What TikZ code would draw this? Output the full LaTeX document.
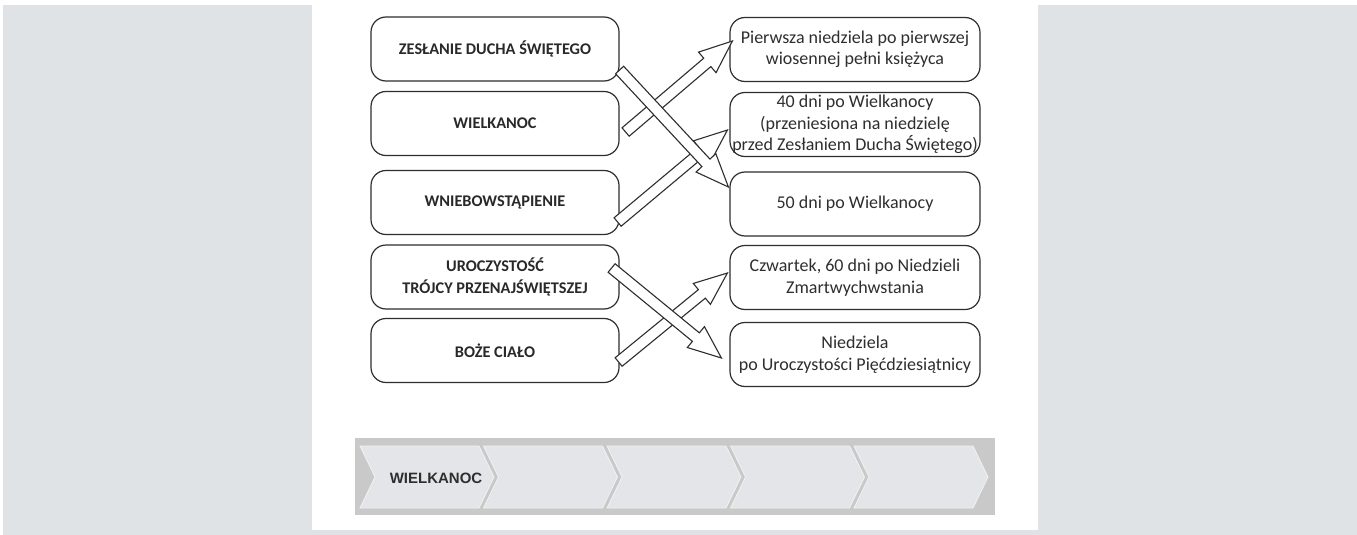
\documentclass[tikz,border=0pt]{standalone}
\usepackage{fontspec}
\setmainfont{Carlito}
\newfontfamily\barfont{Liberation Sans}
\usetikzlibrary{calc}
\definecolor{pagegray}{HTML}{E0E3E6}
\definecolor{ink}{HTML}{2E2E2E}
\definecolor{barbg}{HTML}{C9C9C9}
\definecolor{chev}{HTML}{E4E5E8}
\tikzset{
  rbox/.style={draw=ink, line width=1.2pt, rounded corners=15pt, fill=white,
    minimum width=250pt, minimum height=64pt, inner sep=0pt, align=center,
    text=ink, font=\fontsize{18}{21.5}\selectfont},
  lbox/.style={rbox, minimum width=248pt, text=ink!90!black,
    font=\bfseries\fontsize{16.3}{21.5}\selectfont},
  blockarrow/.style={draw=ink, line width=1.1pt, fill=white, line join=miter},
  chevron/.style={fill=chev, draw=white!95!black, line width=0.8pt},
  bartext/.style={font=\barfont\bfseries\fontsize{15}{18}\selectfont, text=ink, inner sep=0pt}
}
\newcommand{\blockarr}[3]{%
  \coordinate (#3h) at ($(#2)!33pt!(#1)$);
  \draw[blockarrow] ($(#1)!5.5pt!90:(#2)$) -- ($(#3h)!5.5pt!-90:(#1)$)
    -- ($(#3h)!13.5pt!-90:(#1)$) -- (#2) -- ($(#3h)!13.5pt!90:(#1)$)
    -- ($(#3h)!5.5pt!90:(#1)$) -- ($(#1)!5.5pt!-90:(#2)$) -- cycle;}
\begin{document}
\begin{tikzpicture}[x=1pt,y=-1pt]
\useasboundingbox (0,0) rectangle (1357,535);
\fill[white] (0,0) rectangle (1357,535);
\fill[pagegray] (3,5) rectangle (1357,535);
\fill[white] (312,0) rectangle (1038,530);

% left boxes
\node[lbox] (L1) at (495,49) {\raisebox{-3pt}{ZESŁANIE DUCHA ŚWIĘTEGO}};
\node[lbox] (L2) at (495,123.5) {WIELKANOC};
\node[lbox] (L3) at (495,202.5) {WNIEBOWSTĄPIENIE};
\node[lbox] (L4) at (495,277) {UROCZYSTOŚĆ\\TRÓJCY PRZENAJŚWIĘTSZEJ};
\node[lbox] (L5) at (495,350.5) {BOŻE CIAŁO};

% right boxes
\node[rbox] (R1) at (855,49.5) {Pierwsza niedziela po pierwszej\\wiosennej pełni księżyca};
\node[rbox] (R2) at (855,124.5) {40 dni po Wielkanocy\\(przeniesiona na niedzielę\\przed Zesłaniem Ducha Świętego)};
\node[rbox] (R3) at (855,204) {50 dni po Wielkanocy};
\node[rbox] (R4) at (855,277.5) {Czwartek, 60 dni po Niedzieli\\Zmartwychwstania};
\node[rbox] (R5) at (855,354.5) {Niedziela\\po Uroczystości Pięćdziesiątnicy};

% arrow ends
\coordinate (a1s) at ($(L2.east)+(6,8.5)$);
\coordinate (a1e) at ($(R1.west)+(3,-8.5)$);
\coordinate (a3s) at ($(L3.east)+(-2,19.5)$);
\coordinate (a3e) at ($(R2.west)+(-2,5.5)$);
\coordinate (a5s) at ($(L5.east)+(-1,11.5)$);
\coordinate (a5e) at ($(R4.west)+(-2,-4.5)$);
\coordinate (a2s) at ($(L1.east)+(0,21)$);
\coordinate (a2e) at ($(R3.west)+(-1,-17)$);
\coordinate (a4s) at ($(L4.east)+(-8,-9)$);
\coordinate (a4e) at ($(R5.west)+(-8,3.5)$);

\blockarr{a1s}{a1e}{A1}
\blockarr{a3s}{a3e}{A3}
\blockarr{a5s}{a5e}{A5}
\blockarr{a2s}{a2e}{A2}
\blockarr{a4s}{a4e}{A4}

% bottom chevron bar
\fill[barbg] (355,438) rectangle (995,515);
\foreach \i in {0,...,4}{
  \pgfmathsetmacro{\xo}{360+123.5*\i}
  \path[chevron] (\xo,446) -- ({\xo+119},446) -- ({\xo+134},477) -- ({\xo+119},508)
     -- (\xo,508) -- ({\xo+15},477) -- cycle;
}
\node[bartext] (bt) at (436,478) {WIELKANOC};
\end{tikzpicture}
\end{document}
